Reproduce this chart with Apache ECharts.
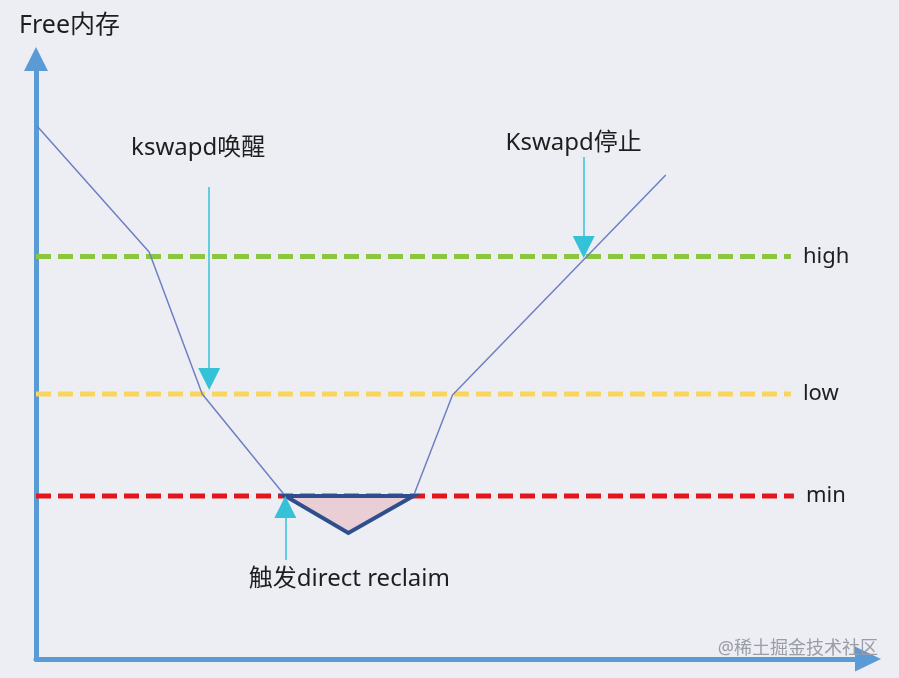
<!DOCTYPE html>
<html>
<head>
<meta charset="utf-8">
<script src="https://cdn.jsdelivr.net/npm/echarts@6/dist/echarts.min.js"></script>
<style>
html,body{margin:0;padding:0;background:#eceef4;}
#c{width:899px;height:678px;}
</style>
</head>
<body>
<div id="c"></div>
<script>
// ---- data (axis units: x 0..831, y 0..600) ----
const freeMemX = [1, 113, 166, 249, 377, 416, 629];
const freeMemY = [533, 407, 265, 163, 163, 264, 484];

const levelNames = ['high', 'low', 'min'];
const levelValues = [402.5, 265, 163];
const levelStartX = 0;
const levelEndX = [754, 754, 757];

const reclaimTriX = [249, 377, 312];
const reclaimTriY = [163, 163, 126];

const arrowNames = ['kswapd唤醒', 'Kswapd停止', '触发direct reclaim'];
const arrowFromX = [173, 547, 249];
const arrowFromY = [472, 502, 99];
const arrowToX = [173, 547, 249];
const arrowToY = [280, 412, 152];
const labelX = [162, 537, 313];
const labelY = [511, 516, 80];

const FONT = '"Noto Sans", "Noto Sans CJK SC", sans-serif';
const levelColors = ['#8cc63f', '#f9d55b', '#e5141b'];

const chart = echarts.init(document.getElementById('c'), null, {renderer: 'canvas'});

const series = [];

levelNames.forEach((n, i) => {
  series.push({
    type: 'line', name: n, silent: true, symbol: 'none', z: 2,
    data: [[levelStartX, levelValues[i]], [levelEndX[i], levelValues[i]]],
    lineStyle: {color: levelColors[i], width: 5, type: [15, 7]},
    endLabel: {show: true, formatter: n, distance: 12, color: '#1e1e1e', fontSize: 22, fontFamily: FONT}
  });
});

series.push({
  type: 'line', name: 'free', silent: true, symbol: 'none', z: 3,
  data: freeMemX.map((x, i) => [x, freeMemY[i]]),
  lineStyle: {color: '#6f7fc2', width: 1.5}
});

series.push({
  type: 'custom', name: 'reclaim', silent: true, z: 4,
  data: [[reclaimTriX[0], reclaimTriY[0]]],
  renderItem: function (params, api) {
    const pts = reclaimTriX.map((x, i) => api.coord([x, reclaimTriY[i]]));
    return {
      type: 'polygon',
      shape: {points: pts},
      style: {fill: '#e9cfd5', stroke: '#2f4e8e', lineWidth: 4, lineJoin: 'miter'}
    };
  }
});

series.push({
  type: 'lines', coordinateSystem: 'cartesian2d', silent: true, z: 5,
  symbol: ['none', 'triangle'], symbolSize: [0, 22],
  lineStyle: {color: '#35c2d8', width: 1.5, opacity: 1},
  itemStyle: {color: '#2ec0d8'},
  data: arrowNames.map((n, i) => ({coords: [[arrowFromX[i], arrowFromY[i]], [arrowToX[i], arrowToY[i]]]}))
});

series.push({
  type: 'scatter', silent: true, symbolSize: 0, z: 6,
  itemStyle: {opacity: 1},
  data: arrowNames.map((n, i) => ({name: n, value: [labelX[i], labelY[i]]})),
  label: {show: true, position: 'inside', formatter: p => p.name, color: '#1e1e1e', fontSize: 24, fontFamily: FONT}
});

const axisCommon = {
  type: 'value', min: 0,
  splitLine: {show: false}, axisTick: {show: false}, axisLabel: {show: false},
  axisLine: {show: true, symbol: ['none', 'triangle'], lineStyle: {color: '#5b9bd5', width: 5}}
};

chart.setOption({
  backgroundColor: '#eceef4',
  animation: false,
  title: [
    {text: 'Free内存', left: 14, top: 8, textStyle: {fontSize: 25, fontWeight: 'normal', color: '#1e1e1e', fontFamily: FONT}},
    {text: '@稀土掘金技术社区', right: 16, top: 635, textStyle: {fontSize: 18, fontWeight: 'normal', color: '#9a9ca6', fontFamily: FONT}}
  ],
  grid: {left: 36, right: 31, top: 59, bottom: 19},
  xAxis: Object.assign({}, axisCommon, {max: 831, axisLine: Object.assign({}, axisCommon.axisLine, {symbolSize: [25, 26]})}),
  yAxis: Object.assign({}, axisCommon, {max: 600, axisLine: Object.assign({}, axisCommon.axisLine, {symbolSize: [24, 24]})}),
  series: series
});
</script>
</body>
</html>
